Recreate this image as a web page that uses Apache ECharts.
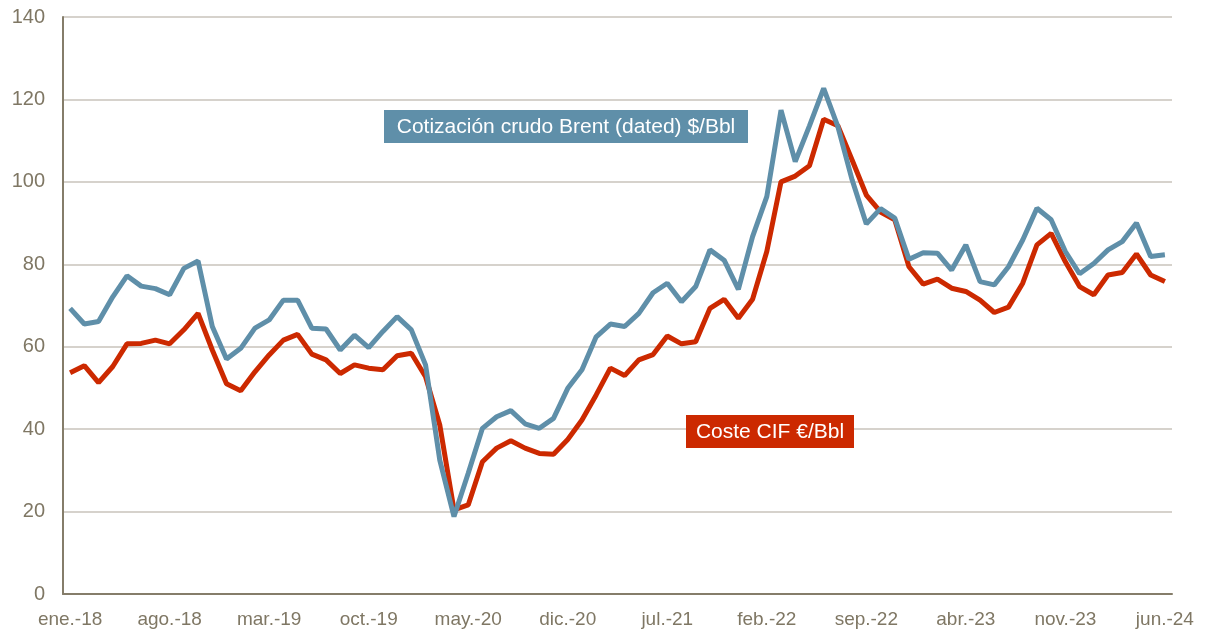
<!DOCTYPE html>
<html>
<head>
<meta charset="utf-8">
<script src="https://cdn.jsdelivr.net/npm/echarts@6/dist/echarts.min.js"></script>
<style>
  html, body { margin: 0; padding: 0; background: #fff; }
  #chart { width: 1207px; height: 635px; }
</style>
</head>
<body>
<div id="chart"></div>
<script>
// months ene.-18 .. jun.-24
const mesesCortos = ['ene.', 'feb.', 'mar.', 'abr.', 'may.', 'jun.', 'jul.', 'ago.', 'sep.', 'oct.', 'nov.', 'dic.']
const meses = []
for (let a = 18; a <= 24; a++) {
  for (let m = 0; m < 12; m++) {
    if (a === 24 && m > 5) break
    meses.push(mesesCortos[m] + '-' + a)
  }
}

const brent = [
  69.3, 65.5, 66.1, 72.1, 77.2, 74.7, 74.1, 72.6, 79.0, 80.8,
  64.9, 57.0, 59.6, 64.5, 66.5, 71.3, 71.3, 64.5, 64.3, 59.2,
  62.8, 59.8, 63.7, 67.3, 64.1, 55.6, 32.5, 18.8, 29.3, 40.2,
  43.0, 44.5, 41.3, 40.2, 42.6, 49.9, 54.4, 62.4, 65.5, 64.9,
  68.1, 73.1, 75.4, 70.9, 74.6, 83.5, 81.0, 73.9, 86.7, 96.4,
  117.4, 104.9, 113.6, 122.7, 113.4, 100.5, 89.8, 93.5, 91.2, 81.2,
  82.8, 82.7, 78.6, 84.7, 75.8, 75.0, 79.4, 85.9, 93.6, 90.8,
  83.1, 77.7, 80.2, 83.5, 85.5, 90.0, 81.9, 82.3
]

const costeCif = [
  53.7, 55.4, 51.3, 55.2, 60.7, 60.8, 61.6, 60.7, 64.1, 68.1,
  59.2, 51.0, 49.3, 53.9, 58.0, 61.6, 63.0, 58.2, 56.8, 53.5,
  55.6, 54.8, 54.4, 57.8, 58.4, 52.7, 41.0, 20.4, 21.6, 32.1,
  35.4, 37.2, 35.4, 34.1, 33.9, 37.5, 42.2, 48.3, 54.8, 53.0,
  56.8, 58.1, 62.6, 60.7, 61.2, 69.3, 71.5, 66.9, 71.5, 83.1,
  100.0, 101.4, 103.9, 115.2, 113.6, 105.3, 96.8, 92.7, 90.8, 79.4,
  75.2, 76.4, 74.2, 73.4, 71.3, 68.3, 69.6, 75.4, 84.7, 87.5,
  80.6, 74.6, 72.6, 77.4, 78.0, 82.5, 77.4, 75.8
]

const textoGris = '#7f7764'
const ejeColor = '#857d6a'
const colorBrent = '#5f8fa9'
const colorCif = '#cc2900'
const fuente = 'Liberation Sans, Arial, sans-serif'

const chart = echarts.init(document.getElementById('chart'))

const option = {
  animation: false,
  textStyle: { fontFamily: fuente },
  grid: { left: 63, right: 35, top: 17, bottom: 41 },
  xAxis: {
    type: 'category',
    boundaryGap: true,
    data: meses,
    axisLine: { lineStyle: { color: ejeColor, width: 2 } },
    axisTick: { show: false },
    axisLabel: {
      interval: 6,
      color: textoGris,
      fontSize: 19,
      margin: 16
    }
  },
  yAxis: {
    type: 'value',
    min: 0,
    max: 140,
    interval: 20,
    axisLine: { show: true, lineStyle: { color: ejeColor, width: 2 } },
    axisTick: { show: false },
    axisLabel: { color: textoGris, fontSize: 20, margin: 18 },
    splitLine: { lineStyle: { color: '#c8c3bb', width: 1.5 } }
  },
  series: [
    {
      name: 'Coste CIF €/Bbl',
      type: 'line',
      data: costeCif,
      symbol: 'none',
      lineStyle: { color: colorCif, width: 5 },
      z: 2
    },
    {
      name: 'Cotización crudo Brent (dated) $/Bbl',
      type: 'line',
      data: brent,
      symbol: 'none',
      lineStyle: { color: colorBrent, width: 5 },
      z: 3
    }
  ],
  graphic: [
    {
      type: 'rect',
      shape: { x: 384, y: 110, width: 364, height: 33 },
      style: { fill: colorBrent },
      z: 10
    },
    {
      type: 'text',
      style: {
        x: 566, y: 127,
        text: 'Cotización crudo Brent (dated) $/Bbl',
        fill: '#fff',
        fontSize: 21,
        fontFamily: fuente,
        align: 'center',
        verticalAlign: 'middle'
      },
      z: 11
    },
    {
      type: 'rect',
      shape: { x: 686, y: 415, width: 168, height: 33 },
      style: { fill: colorCif },
      z: 10
    },
    {
      type: 'text',
      style: {
        x: 770, y: 432,
        text: 'Coste CIF €/Bbl',
        fill: '#fff',
        fontSize: 21,
        fontFamily: fuente,
        align: 'center',
        verticalAlign: 'middle'
      },
      z: 11
    }
  ]
}

chart.setOption(option)
</script>
</body>
</html>
